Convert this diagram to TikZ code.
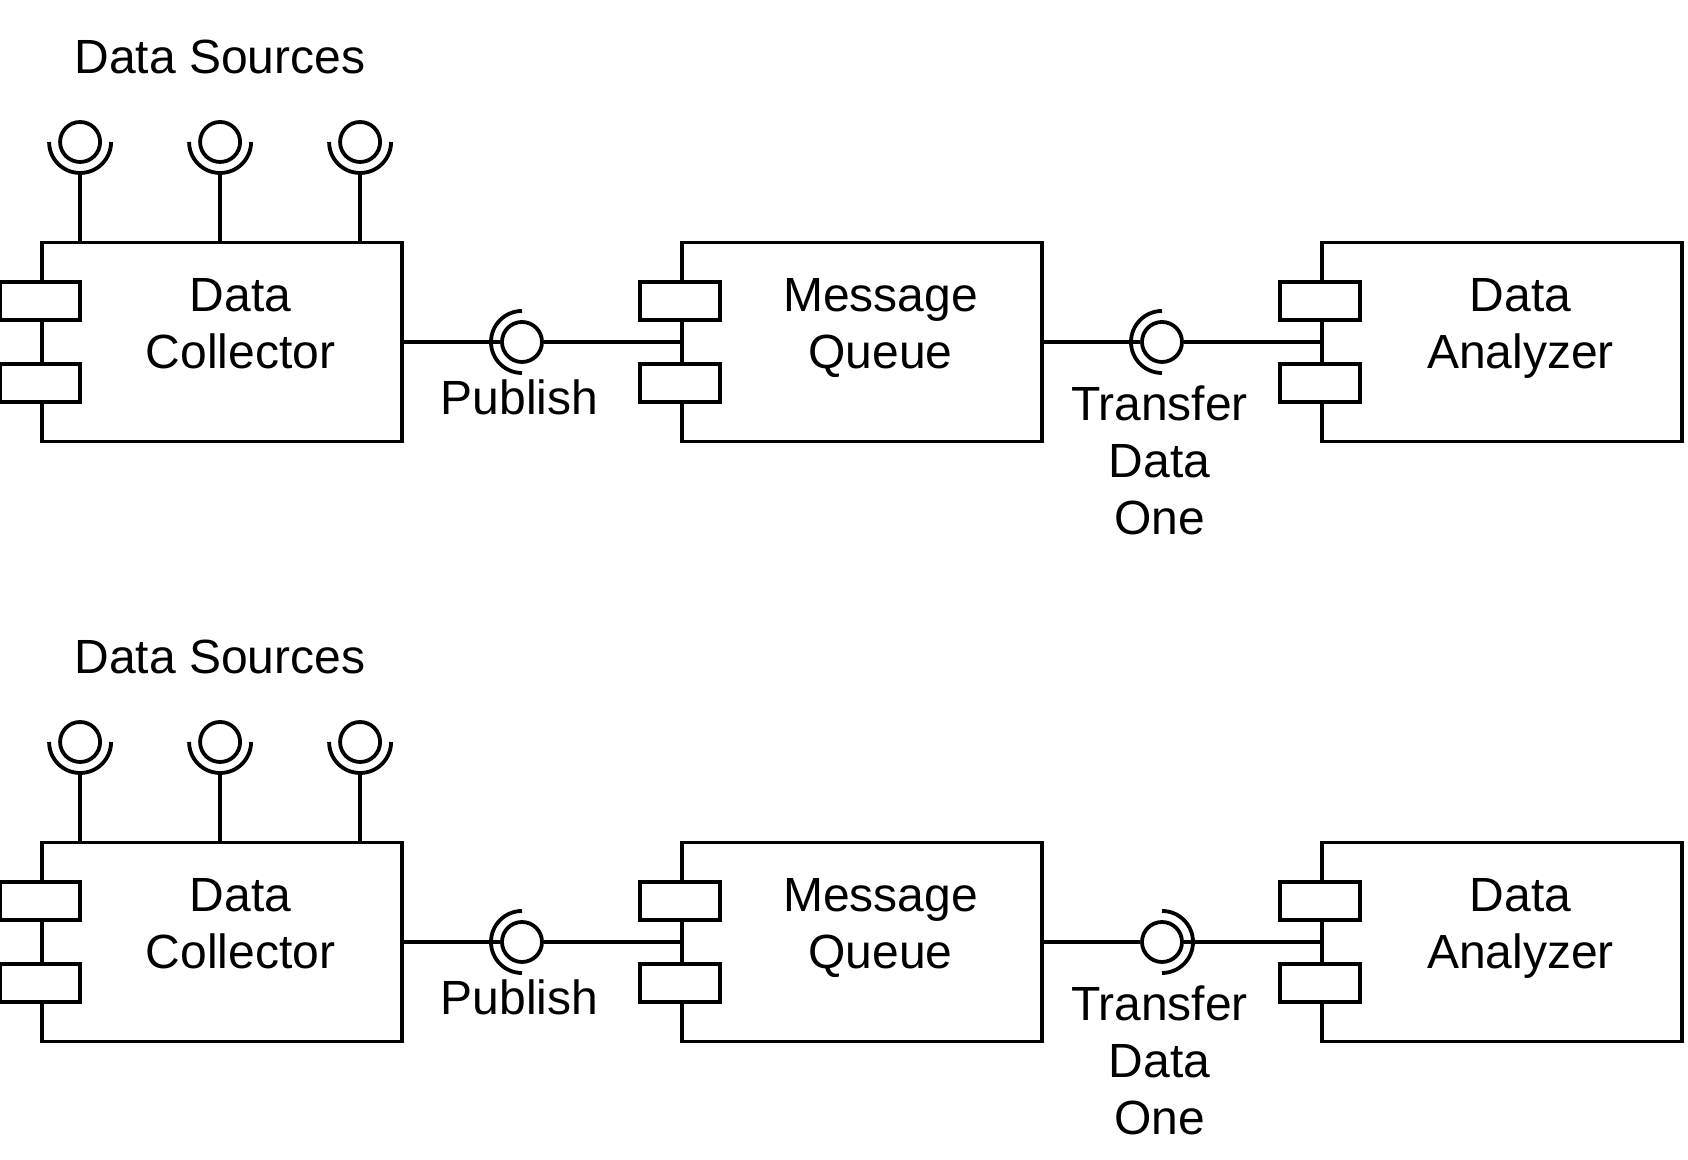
\documentclass[tikz,border=0pt]{standalone}
\usepackage{fontspec}
\setmainfont{Liberation Sans}
\usetikzlibrary{positioning}

\begin{document}
\begin{tikzpicture}[x=0.5pt,y=0.5pt,line width=1.9pt,
  comp/.style={draw,rectangle,minimum width=180pt,minimum height=99.5pt,inner sep=0pt},
  port/.style={draw,fill=white,rectangle,minimum width=40pt,minimum height=19pt,inner sep=0pt},
  ball/.style={draw,circle,minimum size=20pt,inner sep=0pt},
  txt/.style={align=center,font=\fontsize{24}{28.5}\selectfont,inner sep=0pt,anchor=base}]
\useasboundingbox (0,0) rectangle (1688,1160);
\foreach \r/\y/\e in {1/818/270,2/218/-90}{
% components
\path (222,\y) node[comp] (coll\r) {};
\path (862,\y) node[comp] (mq\r) {};
\path (1502,\y) node[comp] (ana\r) {};
\foreach \b in {coll,mq,ana}{
  \path ([yshift=20.5pt]\b\r.west) node[port] (\b\r-p1) {};
  \path ([yshift=-20.5pt]\b\r.west) node[port] (\b\r-p2) {};
}
\path ([shift={(18.5,-26.3)}]coll\r.center) node[txt] (coll\r-t) {Data\\Collector};
\path ([shift={(18.5,-26.3)}]mq\r.center) node[txt] (mq\r-t) {Message\\Queue};
\path ([shift={(18.5,-26.3)}]ana\r.center) node[txt] (ana\r-t) {Data\\Analyzer};
% data sources
\path (220,\y+268) node[txt] (srct\r) {Data Sources};
\foreach \i/\dx in {1/40,2/180,3/320}{
  \path (coll\r.west) ++(\dx,200) node[ball] (src\r\i) {};
  \draw ([xshift=-15.5pt]src\r\i.center) arc[start angle=180,end angle=360,radius=15.5pt];
  \draw ([yshift=-15.5pt]src\r\i.center) -- (src\r\i |- coll\r.north);
}
% publish
\path (522,\y) node[ball] (pub\r) {};
\draw (coll\r) -- (pub\r);
\draw (pub\r) -- (mq\r);
\draw ([yshift=15.5pt]pub\r.center) arc[start angle=90,end angle=270,radius=15.5pt];
\path (519.5,\y-73) node[txt] (pub\r-t) {Publish};
% transfer
\path (1162,\y) node[ball] (tr\r) {};
\draw (mq\r) -- (tr\r);
\draw (tr\r) -- (ana\r);
\draw ([yshift=15.5pt]tr\r.center) arc[start angle=90,end angle=\e,radius=15.5pt];
\path (1159.5,\y-193) node[txt] (tr\r-t) {Transfer\\Data\\One};
}
\end{tikzpicture}
\end{document}
